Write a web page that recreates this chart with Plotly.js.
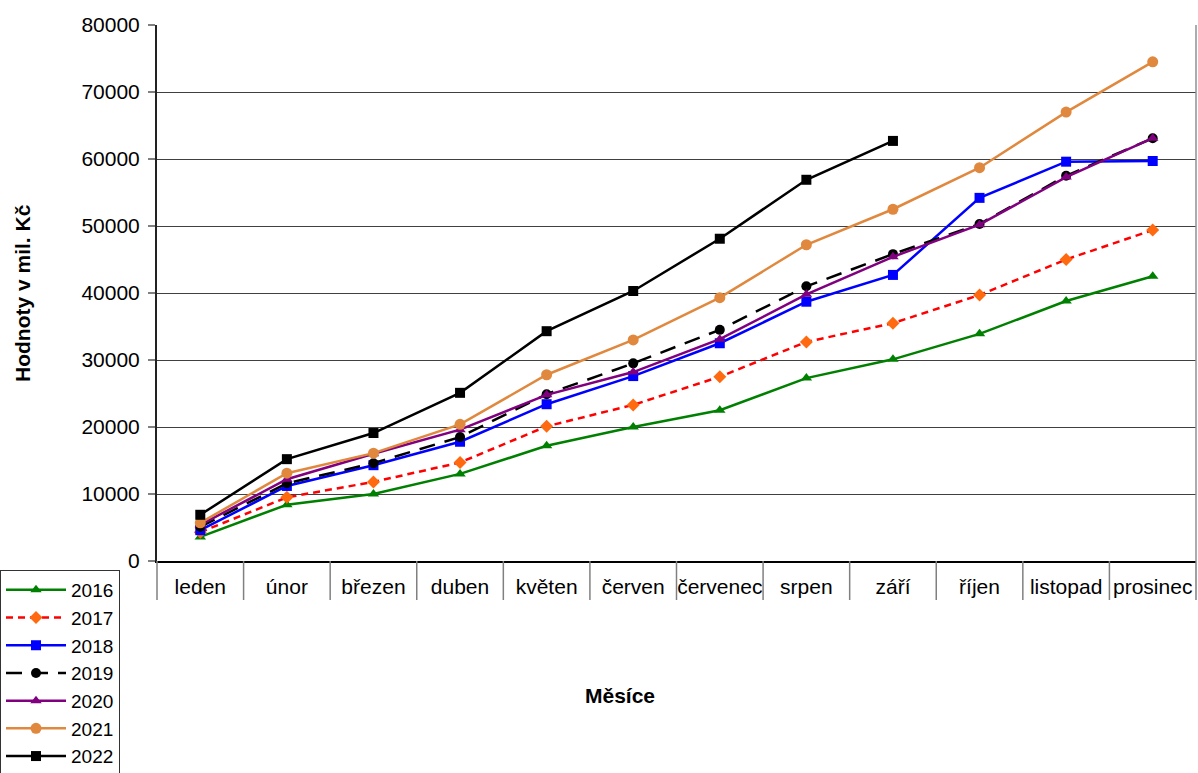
<!DOCTYPE html>
<html>
<head>
<meta charset="utf-8">
<script src="https://cdn.plot.ly/plotly-3.0.1.min.js"></script>
<style>html,body{margin:0;padding:0;background:#fff;}#chart{width:1198px;height:773px;}</style>
</head>
<body>
<div id="chart"></div>
<script>
const months = ["leden","únor","březen","duben","květen","červen","červenec","srpen","září","říjen","listopad","prosinec"];
const years = ["2016","2017","2018","2019","2020","2021","2022"];
const v2016 = [3600, 8400, 10000, 13000, 17200, 20000, 22500, 27300, 30100, 33900, 38800, 42500];
const v2017 = [4300, 9500, 11800, 14700, 20100, 23300, 27500, 32700, 35500, 39700, 45000, 49400];
const v2018 = [4600, 11200, 14300, 17800, 23400, 27600, 32500, 38700, 42700, 54200, 59600, 59700];
const v2019 = [5100, 11600, 14600, 18500, 24900, 29500, 34500, 41000, 45800, 50300, 57500, 63100];
const v2020 = [5400, 12200, 16000, 19600, 24800, 28200, 33100, 39800, 45400, 50200, 57300, 63100];
const v2021 = [5700, 13100, 16100, 20400, 27800, 33000, 39300, 47200, 52500, 58700, 67000, 74500];
const v2022 = [6900, 15200, 19100, 25100, 34300, 40300, 48100, 56900, 62700];
const yTicks = [0, 10000, 20000, 30000, 40000, 50000, 60000, 70000, 80000];

const series = [v2016, v2017, v2018, v2019, v2020, v2021, v2022];
const styles = [
  {line:{color:"#008000", width:2.5}, marker:{symbol:"triangle-up", size:10, color:"#008000"}},
  {line:{color:"#ff0000", width:2.5, dash:"7px,5px"}, marker:{symbol:"diamond", size:10, color:"#ff6a10"}},
  {line:{color:"#0000ff", width:2.5}, marker:{symbol:"square", size:10, color:"#0000ff"}},
  {line:{color:"#000000", width:2.5, dash:"16px,10px"}, marker:{symbol:"circle", size:10, color:"#000000"}},
  {line:{color:"#800080", width:2.5}, marker:{symbol:"triangle-up", size:10, color:"#800080"}},
  {line:{color:"#e0883e", width:2.5}, marker:{symbol:"circle", size:11, color:"#e0883e"}},
  {line:{color:"#000000", width:2.5}, marker:{symbol:"square", size:10, color:"#000000"}}
];

const traces = series.map((vals, i) => ({
  type: "scatter",
  mode: "lines+markers",
  name: years[i],
  x: months.slice(0, vals.length),
  y: vals,
  line: styles[i].line,
  marker: styles[i].marker,
  hoverinfo: "x+y+name"
}));

const shapes = [];
for (let i = 0; i <= months.length; i++) {
  shapes.push({type:"line", xref:"paper", yref:"paper", x0:i/months.length, x1:i/months.length, y0:0, y1:-39/536,
    line:{color:"#808080", width:1.5}});
}
shapes.push({type:"line", xref:"paper", yref:"paper", x0:1, x1:1, y0:0, y1:1, line:{color:"#909090", width:1.5}});

const font = "Liberation Sans, Arial, sans-serif";
const fs = 21;
const layout = {
  width: 1198, height: 773,
  margin: {l:157, r:2, t:25, b:212},
  paper_bgcolor: "#fff", plot_bgcolor: "#fff",
  font: {family: font, size: fs, color: "#000"},
  showlegend: true,
  legend: {
    xref: "container", yref: "container", x: 0, y: 1 - 570/773, xanchor: "left", yanchor: "top",
    bordercolor: "#333", borderwidth: 1, bgcolor: "#fff",
    font: {family: font, size: 19, color: "#000"},
    tracegroupgap: 0, itemwidth: 60
  },
  xaxis: {
    type: "category", categoryorder: "array", categoryarray: months,
    range: [-0.5, months.length - 0.5], fixedrange: true,
    showgrid: false, zeroline: false, ticks: "",
    showline: true, linecolor: "#000", linewidth: 1.5,
    ticklabelstandoff: 6,
    tickfont: {family: font, size: fs, color: "#000"}
  },
  yaxis: {
    range: [0, 80000], tickvals: yTicks, ticktext: yTicks.map(String),
    showgrid: true, gridcolor: "#404040", gridwidth: 1,
    zeroline: false, showline: true, linecolor: "#222", linewidth: 2,
    ticks: "outside", ticklen: 7, tickcolor: "#808080", tickwidth: 1.5,
    ticklabelstandoff: 4,
    tickfont: {family: font, size: fs, color: "#000"}
  },
  shapes: shapes,
  annotations: [{
    text: "<b>Měsíce</b>", xref: "paper", yref: "paper",
    x: (620 - 157) / 1039, y: -(695 - 561) / 536, xanchor: "center", yanchor: "middle",
    showarrow: false, font: {family: font, size: fs, color: "#000"}
  }, {
    text: "<b>Hodnoty v mil. Kč</b>", xref: "paper", yref: "paper",
    x: (22 - 157) / 1039, y: 0.5, xanchor: "center", yanchor: "middle", textangle: -90,
    showarrow: false, font: {family: font, size: fs, color: "#000"}
  }]
};

Plotly.newPlot("chart", traces, layout, {displayModeBar: false, staticPlot: true});
</script>
</body>
</html>
